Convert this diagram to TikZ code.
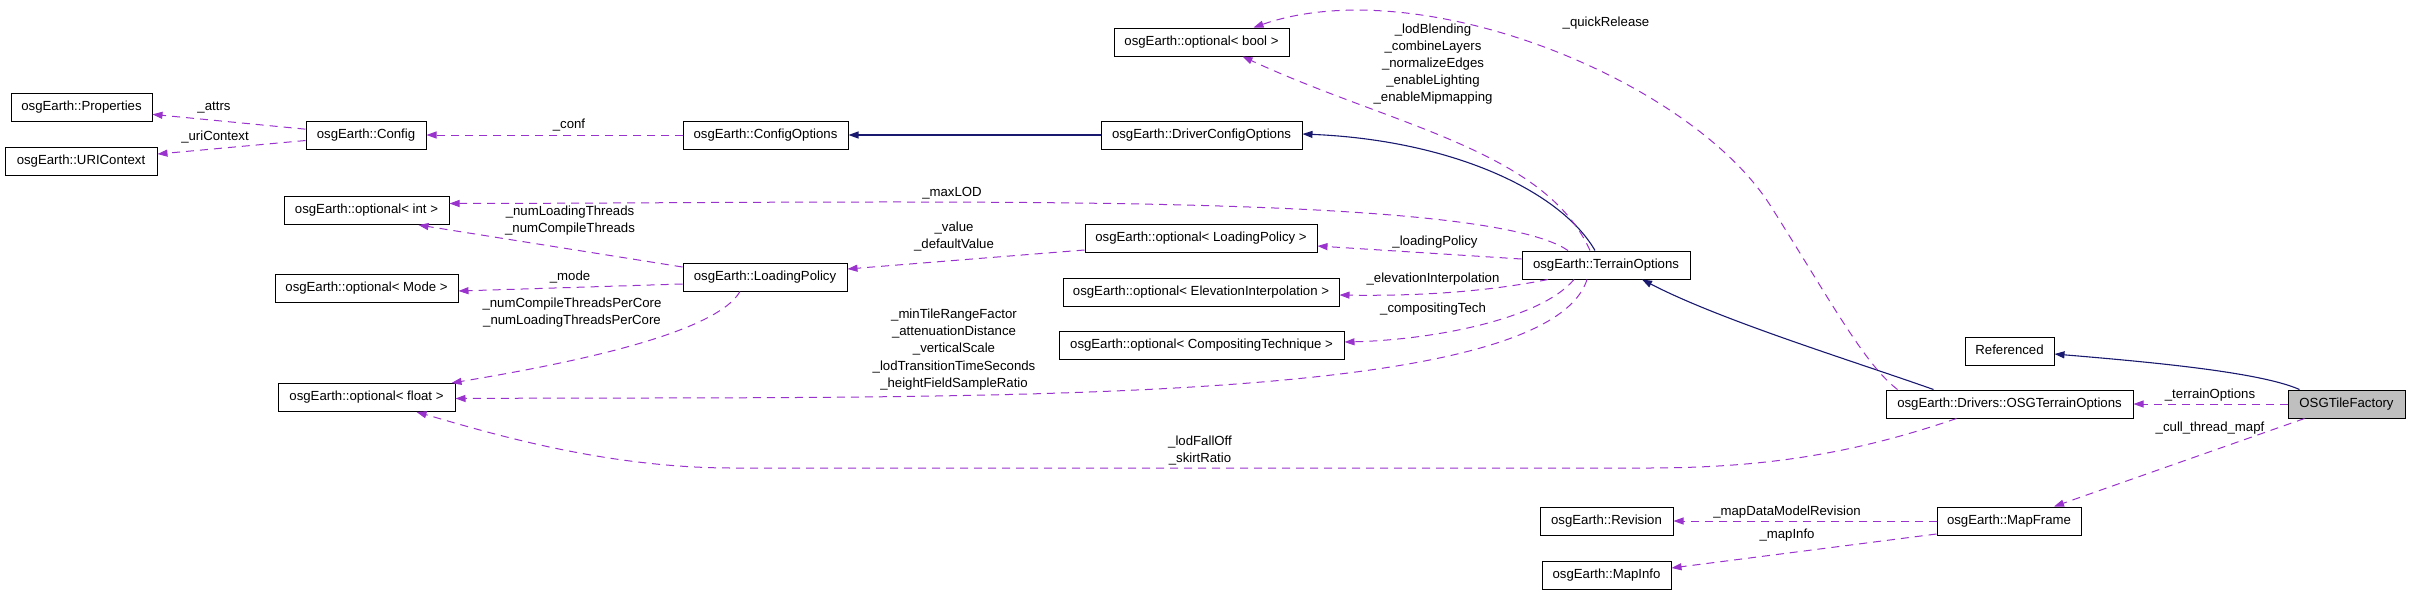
\documentclass[tikz,border=0pt]{standalone}
\usepackage{fontspec}
\setmainfont{Liberation Sans}
\usetikzlibrary{arrows.meta}
\definecolor{memberpurple}{RGB}{154,50,205}
\definecolor{basenavy}{RGB}{25,25,112}
\definecolor{focusgrey}{RGB}{191,191,191}

\begin{document}
\begin{tikzpicture}[x=1pt, y=-1pt, >={Triangle[length=10pt,width=7pt]},
  cls/.style={draw=black, line width=1pt, fill=white, inner sep=0pt,
    minimum width=#1, minimum height=28pt, text height=9.5pt, text depth=2.7pt,
    font=\fontsize{13.2}{17.2}\selectfont},
  mem/.style={->, memberpurple, line width=1pt, dash pattern=on 8pt off 6pt},
  inh/.style={->, basenavy, line width=1.1pt},
  lbl/.style={align=center, inner sep=0pt, font=\fontsize{13.2}{17.2}\selectfont}]
  \useasboundingbox (0,0) rectangle (2411,595);
  % classes
  \node[cls=141pt] (prop) at (81.5,107.5) {osgEarth::Properties};
  \node[cls=152pt] (uri) at (81,161) {osgEarth::URIContext};
  \node[cls=120pt] (cfg) at (366,135) {osgEarth::Config};
  \node[cls=165pt] (oint) at (366.5,210.5) {osgEarth::optional< int >};
  \node[cls=183pt] (omode) at (366.5,288) {osgEarth::optional< Mode >};
  \node[cls=177pt] (ofloat) at (366.5,397.5) {osgEarth::optional< float >};
  \node[cls=165pt] (copt) at (765.5,135) {osgEarth::ConfigOptions};
  \node[cls=164pt] (lp) at (765,277) {osgEarth::LoadingPolicy};
  \node[cls=175pt] (obool) at (1201.5,42) {osgEarth::optional< bool >};
  \node[cls=201pt] (drv) at (1201.5,135) {osgEarth::DriverConfigOptions};
  \node[cls=232pt] (olp) at (1201,238) {osgEarth::optional< LoadingPolicy >};
  \node[cls=276pt] (oei) at (1201,292) {osgEarth::optional< ElevationInterpolation >};
  \node[cls=285pt] (ocomp) at (1201.5,345) {osgEarth::optional< CompositingTechnique >};
  \node[cls=168pt] (topt) at (1606,265) {osgEarth::TerrainOptions};
  \node[cls=133pt] (rev) at (1606.5,521) {osgEarth::Revision};
  \node[cls=129pt] (minfo) at (1606.5,575) {osgEarth::MapInfo};
  \node[cls=89pt] (ref) at (2009.5,351) {Referenced};
  \node[cls=247pt] (osgto) at (2009.5,404) {osgEarth::Drivers::OSGTerrainOptions};
  \node[cls=144pt] (mapf) at (2009,521) {osgEarth::MapFrame};
  \node[cls=117pt, fill=focusgrey] (tile) at (2346.5,404) {OSGTileFactory};
  % inheritance
  \draw[inh] (drv) -- (copt);
  \draw[inh] ([xshift=-11pt]topt.north) .. controls (1560,190) and (1450,140) .. ([yshift=1pt]drv.east);
  \draw[inh] ([xshift=-76pt]osgto.north) .. controls (1850,360) and (1720,320) .. ([xshift=36pt]topt.south);
  \draw[inh] ([xshift=-47pt]tile.north) .. controls (2260,372) and (2150,362) .. ([yshift=-3pt]ref.east);
  % members
  \draw[mem] (cfg) -- (prop);
  \draw[mem] (cfg) -- (uri);
  \draw[mem] (copt) -- (cfg);
  \draw[mem] ([yshift=10pt]lp.west) -- ([xshift=52pt]oint.south);
  \draw[mem] ([yshift=-7pt]lp.west) -- ([yshift=-3pt]omode.east);
  \draw[mem] ([xshift=-25pt]lp.south) .. controls (715,335) and (560,365) .. ([xshift=-4pt]ofloat.north east);
  \draw[mem] ([yshift=-12pt]olp.west) -- ([yshift=8pt]lp.east);
  \draw[mem] ([xshift=-16pt]topt.north) .. controls (1545,150) and (1390,125) .. ([xshift=41pt]obool.south);
  \draw[mem] ([xshift=-112pt]osgto.north) .. controls (1865,365) and (1830,300) .. (1770,205)
    .. controls (1690,80) and (1420,-30) .. ([xshift=52pt]obool.north);
  \draw[mem] ([xshift=-38pt]topt.north) .. controls (1480,190) and (900,203) .. ([yshift=7pt]oint.east);
  \draw[mem] ([yshift=6pt]topt.west) -- ([yshift=-8pt]olp.east);
  \draw[mem] ([xshift=-58pt]topt.south) .. controls (1480,293) and (1410,296) .. ([yshift=-3pt]oei.east);
  \draw[mem] ([xshift=-32pt]topt.south) .. controls (1540,320) and (1430,340) .. ([yshift=3pt]ocomp.east);
  \draw[mem] ([xshift=-19pt]topt.south) .. controls (1545,410) and (950,396) .. ([yshift=-1pt]ofloat.east);
  \draw[mem] ([xshift=-53pt]osgto.south) .. controls (1850,455) and (1760,468) .. (1646,468)
    -- (733,468) .. controls (600,468) and (480,430) .. ([xshift=50pt]ofloat.south);
  \draw[mem] (tile) -- (osgto);
  \draw[mem] ([xshift=-42pt]tile.south) -- ([xshift=45pt]mapf.north);
  \draw[mem] (mapf) -- (rev);
  \draw[mem] ([yshift=-13pt]mapf.west) -- ([yshift=7pt]minfo.east);
  % member labels
  \node[lbl] (lattrs) at (214,108) {\_attrs};
  \node[lbl] (luri) at (215,137) {\_uriContext};
  \node[lbl] (lconf) at (569,125) {\_conf};
  \node[lbl] (lbool) at (1433,64) {\_lodBlending\\\_combineLayers\\\_normalizeEdges\\\_enableLighting\\\_enableMipmapping};
  \node[lbl] (lquick) at (1606,23) {\_quickRelease};
  \node[lbl] (lmaxlod) at (952,193) {\_maxLOD};
  \node[lbl] (lthreads) at (570,220.5) {\_numLoadingThreads\\\_numCompileThreads};
  \node[lbl] (lmode) at (570,277) {\_mode};
  \node[lbl] (lpercore) at (572,312.5) {\_numCompileThreadsPerCore\\\_numLoadingThreadsPerCore};
  \node[lbl] (lvalue) at (954,236.5) {\_value\\\_defaultValue};
  \node[lbl] (lloading) at (1435,242) {\_loadingPolicy};
  \node[lbl] (lelev) at (1433,279) {\_elevationInterpolation};
  \node[lbl] (lcomp) at (1433,309) {\_compositingTech};
  \node[lbl] (lfloat) at (954,349.5) {\_minTileRangeFactor\\\_attenuationDistance\\\_verticalScale\\\_lodTransitionTimeSeconds\\\_heightFieldSampleRatio};
  \node[lbl] (lfall) at (1200,450.5) {\_lodFallOff\\\_skirtRatio};
  \node[lbl] (lterrain) at (2210,395) {\_terrainOptions};
  \node[lbl] (lcull) at (2210,428) {\_cull\_thread\_mapf};
  \node[lbl] (lrev) at (1787,512) {\_mapDataModelRevision};
  \node[lbl] (linfo) at (1787,535) {\_mapInfo};
\end{tikzpicture}
\end{document}
